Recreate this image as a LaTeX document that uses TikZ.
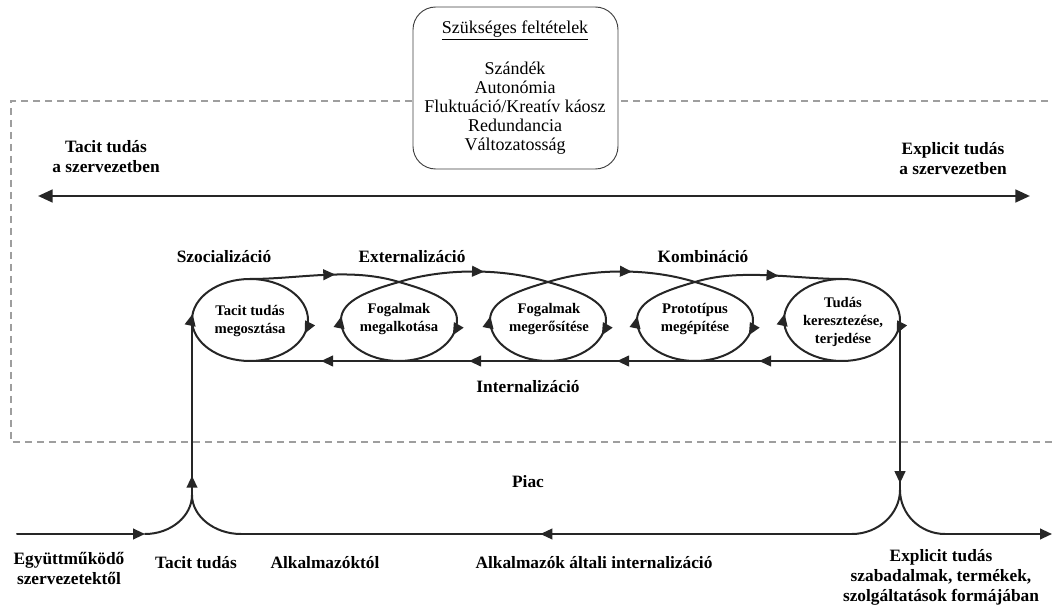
\documentclass[tikz,border=0pt]{standalone}
\usepackage{fontspec}
\setmainfont{Liberation Serif}
\usetikzlibrary{arrows.meta,decorations.markings}

\tikzset{
  flow/.style={line width=1.5pt, draw=black!85, line cap=round},
  arrowat/.style={postaction={decorate,decoration={markings,
      mark=at position #1 with {\arrow{Triangle[length=9pt,width=8pt]}}}}},
  tipend/.style={-{Triangle[length=9pt,width=8pt]}},
  lbl/.style={font=\bfseries\fontsize{13}{15}\selectfont, align=center, inner sep=0pt},
  inlbl/.style={font=\bfseries\fontsize{11}{13.5}\selectfont, align=center, inner sep=0pt},
  condtxt/.style={font=\fontsize{13.5}{14.25}\selectfont, align=center, inner sep=0pt},
  zone/.style={draw=black!38, line width=1.1pt, dash pattern=on 5.25pt off 3.75pt},
  condbox/.style={draw=black!75, line width=0.7pt, fill=white, rounded corners=17pt,
      minimum width=153.75pt, minimum height=121.5pt, inner sep=0pt}
}

\begin{document}
\begin{tikzpicture}[x=0.75pt,y=-0.75pt]
\useasboundingbox (0,0) rectangle (1053,605);

% organisation boundary (dashed)
\coordinate (zbl) at (11,442);
\coordinate (ztl) at (11,101);
\coordinate (ztr) at (1060,101);
\coordinate (zbr) at (1060,442);
\draw[zone] (ztr) -- (ztl) -- (zbl) -- (zbr);

% necessary conditions
\node[condbox] (cond) at (515.5,88) {};
\node[condtxt] (condtitle) at (515,30) {\underline{Szükséges feltételek}};
\node[condtxt] (condlist) at (515,108) {Szándék\\Autonómia\\Fluktuáció/Kreatív káosz\\Redundancia\\Változatosság};

% tacit <-> explicit axis
\node[lbl] (tacitorg) at (106,157) {Tacit tudás\\a szervezetben};
\node[lbl] (explorg) at (953,159) {Explicit tudás\\a szervezetben};
\coordinate (axl) at (38,196);
\coordinate (axr) at (1030,196);
\draw[line width=2pt, draw=black!85, {Triangle[length=11pt,width=9.5pt]}-{Triangle[length=11pt,width=9.5pt]}] (axl) -- (axr);

% phase labels
\node[lbl] (szoc) at (224,257) {Szocializáció};
\node[lbl] (ext) at (412,257) {Externalizáció};
\node[lbl] (komb) at (703,257) {Kombináció};
\node[lbl] (int) at (528,387) {Internalizáció};

% loop tops and bottoms
\coordinate (t1) at (250,279);
\coordinate (t2) at (399,282);
\coordinate (t3) at (548,282);
\coordinate (t4) at (695,282);
\coordinate (t5) at (842,279);
\coordinate (b1) at (250,361);
\coordinate (b5) at (842,361);
\coordinate (l1) at (192,320);
\coordinate (r5) at (900,320);

% first and last loops: closed ellipses
\foreach \c in {250,842}{
  \draw[flow, arrowat=0.295, arrowat=0.77]
    (\c,279) .. controls (\c+32,279) and (\c+58,297.4) .. (\c+58,320)
    .. controls (\c+58,342.6) and (\c+32,361) .. (\c,361)
    .. controls (\c-32,361) and (\c-58,342.6) .. (\c-58,320)
    .. controls (\c-58,297.4) and (\c-32,279) .. (\c,279);
}
% middle loops: crossing at the top
\foreach \c in {399,548,695}{
  \draw[flow, arrowat=0.295, arrowat=0.77]
    (\c,282) .. controls (\c+28,290) and (\c+58,300) .. (\c+58,320)
    .. controls (\c+58,342.6) and (\c+32,361) .. (\c,361)
    .. controls (\c-32,361) and (\c-58,342.6) .. (\c-58,320)
    .. controls (\c-58,300) and (\c-28,290) .. (\c,282);
}

% loop contents
\node[inlbl] (k1) at (250,321) {Tacit tudás\\megosztása};
\node[inlbl] (k2) at (399,319) {Fogalmak\\megalkotása};
\node[inlbl] (k3) at (549,319) {Fogalmak\\megerősítése};
\node[inlbl] (k4) at (695,319) {Prototípus\\megépítése};
\node[inlbl] (k5) at (843,322) {Tudás\\keresztezése,\\terjedése};

% connections between loops
\draw[flow, arrowat=0.57] (t1) .. controls (300,279) and (350,267) .. (t2);
\draw[flow, arrowat=0.57] (t2) .. controls (444,268) and (503,268) .. (t3);
\draw[flow, arrowat=0.57] (t3) .. controls (593,268) and (650,268) .. (t4);
\draw[flow, arrowat=0.57] (t4) .. controls (740,268) and (795,279) .. (t5);

% internalisation return line
\draw[flow, arrowat=0.14, arrowat=0.38, arrowat=0.63, arrowat=0.88] (b5) -- (b1);

% market
\node[lbl] (piac) at (528,482) {Piac};
\coordinate (cuspL) at (192,495);
\coordinate (cuspR) at (900,490);
\coordinate (inL) at (17,534);
\coordinate (jL1) at (145,534);
\coordinate (jL2) at (241,534);
\coordinate (jR1) at (852,534);
\coordinate (jR2) at (945,534);
\coordinate (outR) at (1052,534);

\draw[flow, arrowat=0.11] (cuspL) -- (l1);
\draw[flow, arrowat=0.96] (r5) -- (cuspR);

\draw[flow, tipend] (inL) -- (jL1);
\draw[flow] (jL1) .. controls (171,534) and (192,516) .. (cuspL);
\draw[flow] (cuspL) .. controls (192,516) and (214,534) .. (jL2);
\draw[flow, arrowat=0.51] (jR1) -- (jL2);
\draw[flow] (cuspR) .. controls (900,514) and (878,534) .. (jR1);
\draw[flow] (cuspR) .. controls (900,514) and (920,534) .. (jR2);
\draw[flow, tipend] (jR2) -- (outR);

% market labels
\node[lbl] (partners) at (69,568) {Együttműködő\\szervezetektől};
\node[lbl] (tacitin) at (196,563) {Tacit tudás};
\node[lbl] (empl) at (325,563) {Alkalmazóktól};
\node[lbl] (emplint) at (594,563) {Alkalmazók általi internalizáció};
\node[lbl] (explout) at (941,577) {Explicit tudás\\szabadalmak, termékek,\\szolgáltatások formájában};
\end{tikzpicture}
\end{document}
